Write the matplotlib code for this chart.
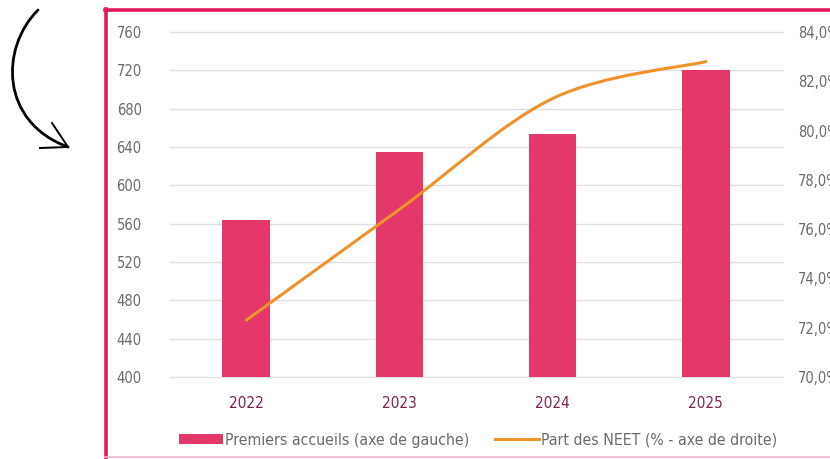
import numpy as np
import matplotlib
matplotlib.use("Agg")
import matplotlib.pyplot as plt
from matplotlib.path import Path
from matplotlib.patches import PathPatch, Patch
from matplotlib.lines import Line2D
from matplotlib.ticker import FuncFormatter

# données
annees = ["2022", "2023", "2024", "2025"]
premiers_accueils = [564, 635, 654, 720]          # axe de gauche
part_neet = [72.3, 76.8, 81.3, 82.8]             # % - axe de droite

plt.rcParams['font.family'] = ['DejaVu Sans']
plt.rcParams['font.stretch'] = 'condensed'

W, H = 830, 459
fig = plt.figure(figsize=(W / 100, H / 100), dpi=100)


def px(x, y):
    # pixels (origine en haut à gauche) -> fraction de figure
    return x / W, 1 - y / H


ax = fig.add_axes([169.5 / W, 1 - 377 / H, (782.5 - 169.5) / W, 345 / H])
x = np.arange(len(annees))

# barres
ax.bar(x, premiers_accueils, width=0.31, color='#E4386B', zorder=2)
ax.set_xlim(-0.5, 3.5)
ax.set_ylim(400, 760)
ax.set_yticks(np.arange(400, 761, 40))
ax.grid(axis='y', color='#E0E0E0', lw=1.0, zorder=0)
for g in ax.get_ygridlines():
    g.set_clip_on(False)
for s in ax.spines.values():
    s.set_visible(False)
ax.tick_params(axis='y', length=0, pad=20, labelsize=10.5, labelcolor='#6A6A6A')
ax.tick_params(axis='x', length=0, pad=14, labelsize=11, labelcolor='#7A2352')
ax.set_xticks(x)
ax.set_xticklabels(annees)

# axe de droite
ax2 = ax.twinx()
ax2.set_ylim(70, 84)
ax2.set_yticks(np.arange(70, 84.1, 2))
ax2.yaxis.set_major_formatter(FuncFormatter(lambda v, p: f"{v:.1f}%".replace(".", ",")))
ax2.tick_params(axis='y', length=0, pad=11, labelsize=10.5, labelcolor='#6A6A6A')
for s in ax2.spines.values():
    s.set_visible(False)

# courbe lissée (type Excel, Catmull-Rom -> Bézier)
pts = np.column_stack([x, part_neet]).astype(float)
verts = [pts[0]]
codes = [Path.MOVETO]
n = len(pts)
for i in range(n - 1):
    p0 = pts[i - 1] if i > 0 else pts[i]
    p1, p2 = pts[i], pts[i + 1]
    p3 = pts[i + 2] if i + 2 < n else pts[i + 1]
    c1 = p1 + (p2 - p0) / 6
    c2 = p2 - (p3 - p1) / 6
    verts += [c1, c2, p2]
    codes += [Path.CURVE4] * 3
ax2.add_patch(PathPatch(Path(verts, codes), fill=False, edgecolor='#F0922B',
                        lw=2.2, capstyle='round', zorder=3))

# légende
handles = [Patch(facecolor='#E4386B', edgecolor='none'),
           Line2D([0], [0], color='#F0922B', lw=2.2)]
labels = ["Premiers accueils (axe de gauche)", "Part des NEET (% - axe de droite)"]
fig.legend(handles, labels, loc='center', bbox_to_anchor=(478 / W, 1 - 440 / H),
           ncol=2, frameon=False, fontsize=11.3, labelcolor='#6A6A6A',
           handlelength=2.8, handleheight=0.6, handletextpad=0.15, columnspacing=1.6)

# cadre rose
fig.add_artist(Line2D([px(106, 0)[0]] * 2, [px(0, 9)[1], px(0, 458)[1]], color='#E0185C', lw=2.6))
fig.add_artist(Line2D([px(105, 0)[0], 1.0], [px(0, 10)[1]] * 2, color='#E0185C', lw=2.6))
fig.add_artist(Line2D([px(105, 0)[0], 1.0], [px(0, 457)[1]] * 2, color='#F6B3CB', lw=1.2))

# flèche dessinée à la main
fleche = Path([px(38, 10), px(0, 48), px(0, 122), px(68, 147)],
              [Path.MOVETO, Path.CURVE4, Path.CURVE4, Path.CURVE4])
fig.add_artist(PathPatch(fleche, fill=False, edgecolor='black', lw=2.0,
                         transform=fig.transFigure, capstyle='round'))
fig.add_artist(Line2D([px(68, 0)[0], px(52, 0)[0]], [px(0, 147)[1], px(0, 123)[1]], color='black', lw=1.4))
fig.add_artist(Line2D([px(68, 0)[0], px(40, 0)[0]], [px(0, 147)[1], px(0, 148)[1]], color='black', lw=1.4))

fig.savefig("out.png", dpi=100)
